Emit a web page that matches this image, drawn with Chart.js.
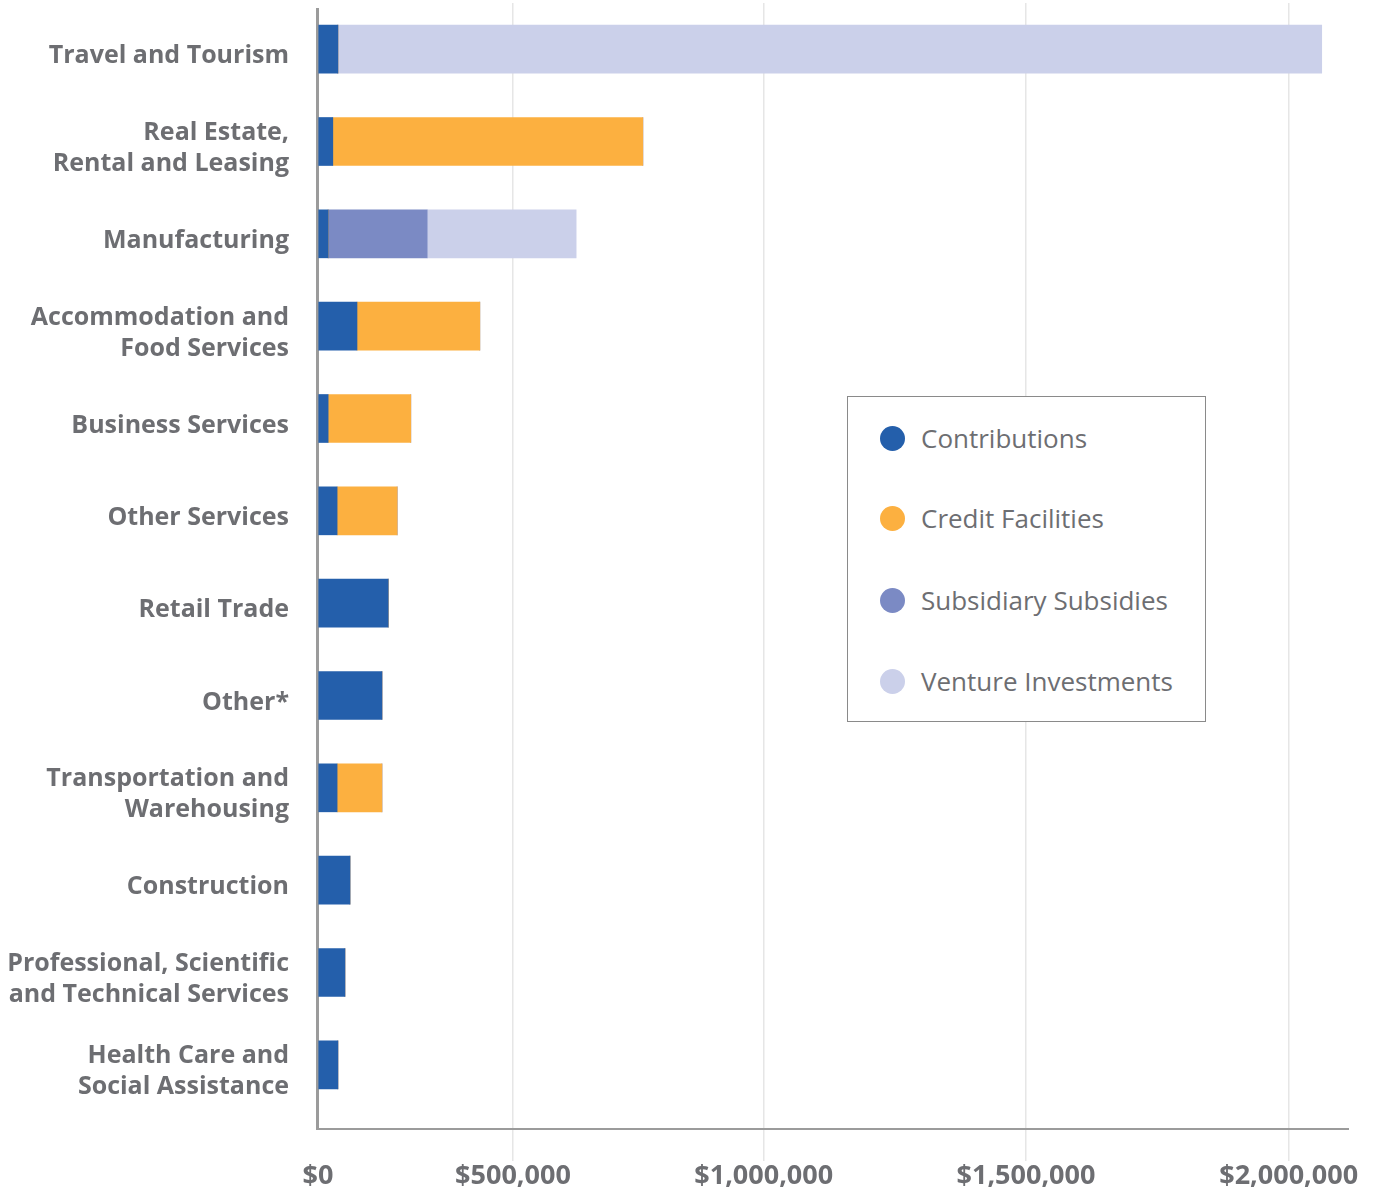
<!DOCTYPE html>
<html>
<head>
<meta charset="utf-8">
<script src="https://cdn.jsdelivr.net/npm/chart.js@4.4.1/dist/chart.umd.min.js"></script>
<style>
  html, body { margin: 0; padding: 0; background: #fff; }
  #wrap { position: relative; width: 1377px; height: 1193px; }
  #legend {
    position: absolute; left: 847px; top: 396px; width: 357px; height: 324px;
    border: 1px solid #8a8a8a; background: #fff;
    font-family: "Open Sans", Lato, sans-serif; font-size: 26px; color: #6d6e72;
  }
  #legend .item { position: absolute; left: 32px; height: 26px; line-height: 26px; white-space: nowrap; }
  #legend .dot { display: inline-block; width: 25px; height: 25px; border-radius: 50%; vertical-align: middle; margin-right: 16px; }
  #legend span { vertical-align: middle; }
</style>
</head>
<body>
<div id="wrap">
  <canvas id="chart" width="1377" height="1193"></canvas>
  <div id="legend"></div>
</div>
<script>
// sectors, top to bottom
const categories = [
  'Travel and Tourism',
  ['Real Estate,', 'Rental and Leasing'],
  'Manufacturing',
  ['Accommodation and', 'Food Services'],
  'Business Services',
  'Other Services',
  'Retail Trade',
  'Other*',
  ['Transportation and', 'Warehousing'],
  'Construction',
  ['Professional, Scientific', 'and Technical Services'],
  ['Health Care and', 'Social Assistance']
];

const contributions = [51000, 38000, 26000, 100000, 26000, 49000, 180000, 164000, 49000, 82000, 69000, 51000];
const creditFacilities = [0, 721000, 0, 315000, 212000, 154000, 0, 0, 115000, 0, 0, 0];
const subsidiarySubsidies = [0, 0, 254000, 0, 0, 0, 0, 0, 0, 0, 0, 0];
const ventureInvestments = [2012000, 0, 346000, 0, 0, 0, 0, 0, 0, 0, 0, 0];

const tickValues = [0, 500000, 1000000, 1500000, 2000000];
const axisMax = 2115000;

// the source axis is not evenly spaced: value stops and where they sit across the plot width
const axisStops = [0, 500000, 1000000, 1500000, 2000000, axisMax];
const axisStopFractions = [0, 0.1891, 0.4323, 0.6867, 0.9415, 1];

const colors = {
  contributions: '#245fab',
  credit: '#fcb040',
  subsidiary: '#7b8ac4',
  venture: '#cbd0ea'
};
const textColor = '#6d6e72';
const axisColor = '#9b9b9b';

function interp(x, xs, ys) {
  if (x <= xs[0]) return ys[0];
  for (let i = 1; i < xs.length; i++) {
    if (x <= xs[i]) {
      const t = (x - xs[i - 1]) / (xs[i] - xs[i - 1]);
      return ys[i - 1] + t * (ys[i] - ys[i - 1]);
    }
  }
  const n = xs.length - 1;
  return ys[n] + (x - xs[n]) * (ys[n] - ys[n - 1]) / (xs[n] - xs[n - 1]);
}

// linear scale with the same uneven stops as the source axis
class BentScale extends Chart.LinearScale {
  getPixelForValue(value) {
    return this.getPixelForDecimal(interp(value, axisStops, axisStopFractions));
  }
  getValueForPixel(pixel) {
    return interp(this.getDecimalForPixel(pixel), axisStopFractions, axisStops);
  }
}
BentScale.id = 'bent';
BentScale.defaults = Chart.LinearScale.defaults;
Chart.register(BentScale);

// axis lines: the x axis sits a little below the last bar band
const axisLines = {
  id: 'axisLines',
  beforeDatasetsDraw(chart) {
    const { ctx, chartArea } = chart;
    ctx.save();
    ctx.strokeStyle = axisColor;
    ctx.lineWidth = 3;
    ctx.beginPath();
    ctx.moveTo(chartArea.left - 0.5, chartArea.top + 5);
    ctx.lineTo(chartArea.left - 0.5, chartArea.bottom + 19);
    ctx.stroke();
    ctx.lineWidth = 2;
    ctx.beginPath();
    ctx.moveTo(chartArea.left - 2, chartArea.bottom + 18);
    ctx.lineTo(chartArea.right, chartArea.bottom + 18);
    ctx.stroke();
    ctx.restore();
  }
};

const yFont = { family: '"Open Sans", Lato, sans-serif', size: 25, weight: 'bold', lineHeight: 1.24 };
const xFont = { family: '"Open Sans", Lato, sans-serif', size: 27, weight: 'bold', lineHeight: 1.2 };

const chart = new Chart(document.getElementById('chart'), {
  type: 'bar',
  data: {
    labels: categories,
    datasets: [
      { label: 'Contributions', data: contributions, backgroundColor: colors.contributions },
      { label: 'Credit Facilities', data: creditFacilities, backgroundColor: colors.credit },
      { label: 'Subsidiary Subsidies', data: subsidiarySubsidies, backgroundColor: colors.subsidiary },
      { label: 'Venture Investments', data: ventureInvestments, backgroundColor: colors.venture }
    ]
  },
  options: {
    indexAxis: 'y',
    responsive: false,
    animation: false,
    barThickness: 48,
    layout: { padding: { top: 3, right: 28, left: 0, bottom: 0 } },
    plugins: {
      legend: { display: false },
      tooltip: { enabled: false }
    },
    scales: {
      x: {
        type: 'bent',
        stacked: true,
        min: 0,
        max: axisMax,
        afterBuildTicks(scale) {
          scale.ticks = tickValues.map(v => ({ value: v }));
        },
        afterFit(scale) {
          scale.height = 82;
          scale.paddingLeft = 0;
          scale.paddingRight = 0;
        },
        border: { display: false },
        grid: {
          color: ctx => (ctx.tick && ctx.tick.value === 0 ? 'rgba(0,0,0,0)' : '#e6e6e6'),
          lineWidth: 1.5,
          drawTicks: true,
          tickLength: 50,
          tickColor: ctx => (ctx.tick && ctx.tick.value === 0 ? 'rgba(0,0,0,0)' : '#e6e6e6')
        },
        ticks: {
          padding: -1,
          maxRotation: 0,
          color: textColor,
          font: xFont,
          callback: v => '$' + Number(v).toLocaleString('en-US')
        }
      },
      y: {
        stacked: true,
        afterFit(scale) {
          scale.width = 318;
          scale.paddingTop = 0;
          scale.paddingBottom = 0;
        },
        border: { display: false },
        grid: { display: false, drawTicks: false },
        ticks: {
          padding: 29,
          labelOffset: 7,
          color: textColor,
          font: yFont,
          autoSkip: false
        }
      }
    }
  },
  plugins: [axisLines]
});

// boxed legend inside the plot, built from the datasets
const legendEl = document.getElementById('legend');
const rowTops = [25, 105, 187, 268];
chart.data.datasets.forEach((ds, i) => {
  const item = document.createElement('div');
  item.className = 'item';
  item.style.top = rowTops[i] + 'px';
  item.innerHTML = '<i class="dot" style="background:' + ds.backgroundColor + '"></i><span>' + ds.label + '</span>';
  legendEl.appendChild(item);
});
</script>
</body>
</html>
